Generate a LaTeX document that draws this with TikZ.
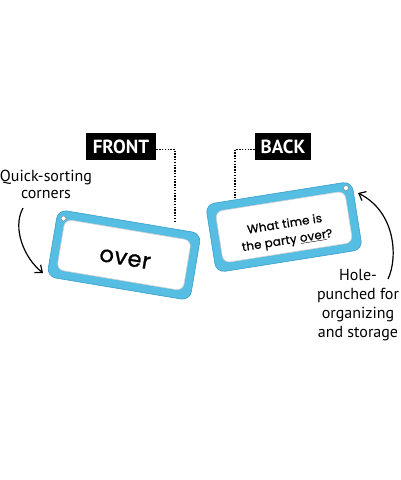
\documentclass[tikz,border=0pt]{standalone}
\usepackage{fontspec}
\setmainfont{PT Sans}
\newfontfamily\cardfont[FakeBold=1.2,LetterSpace=3]{Poppins}
\newfontfamily\qfont[FakeBold=0.8,LetterSpace=2]{Poppins}
\usetikzlibrary{arrows.meta,calc}
\definecolor{cardblue}{RGB}{86,190,226}
\definecolor{cardedge}{RGB}{58,158,202}
\begin{document}
\begin{tikzpicture}[x=1pt,y=-1pt,
  tag/.style={fill=black,text=white,font=\bfseries\fontsize{19}{19}\selectfont,inner ysep=0pt,minimum height=27pt},
  leader/.style={line width=1.4pt,dash pattern=on 1.4pt off 1.4pt},
  notel/.style={font=\fontsize{16}{17}\selectfont,align=center,inner sep=0pt},
  noter/.style={font=\fontsize{16}{19}\selectfont,align=center,inner sep=0pt},
  curvearrow/.style={line width=1.2pt,-{Straight Barb[length=6pt,width=10pt]}},
  cardframe/.style={fill=cardblue,draw=cardedge,line width=0.6pt,rounded corners=9pt},
  cardface/.style={fill=white,draw=black!18,line width=0.6pt,rounded corners=7pt},
  hole/.style={circle,fill=white,draw=black!45,line width=0.5pt,inner sep=0pt,minimum size=5pt},
]
\path[fill=white,use as bounding box] (0,0) rectangle (400,480);

% labels
\node[tag,inner xsep=7pt] (front) at (121,146.5) {FRONT};
\node[tag,inner xsep=6pt] (back) at (283,146.5) {BACK};

% cards
\node[cardframe,minimum width=145pt,minimum height=68pt,rotate=-9.5] (frontcard) at (124,255) {};
\node[cardface,minimum width=128pt,minimum height=51pt,rotate=-9.5] (frontface) at (frontcard.center) {};
\node[rotate=-9.5,font=\cardfont\fontsize{22.5}{23}\selectfont] (overword) at (125,259) {over};
\node[hole] (fronthole) at (63.5,218.5) {};

\node[cardframe,minimum width=148pt,minimum height=69pt,rotate=9] (backcard) at (284,227) {};
\node[cardface,minimum width=131pt,minimum height=52pt,rotate=9] (backface) at (backcard.center) {};
\node[rotate=9,align=center,font=\qfont\fontsize{11.8}{16.5}\selectfont] (question) at (286,233) {What time is\\the party \underline{over}?};
\node[hole] (backhole) at (346,188) {};

% leaders
\coordinate (fronttip) at (175,223);
\coordinate (backtip) at (235,198);
\draw[leader] ([yshift=-3pt]front.east) -| (fronttip);
\draw[leader] ([yshift=-3pt]back.west) -| (backtip);

% notes
\node[notel] (quick) at (46,184) {Quick-sorting\\corners};
\node[noter] (holep) at (358,305) {Hole-\\punched for\\organizing\\and storage};

% arrows
\coordinate (qa) at (23,208);
\coordinate (qb) at (43,273);
\draw[curvearrow] (qa) .. controls (12,228) and (24,258) .. (qb);
\coordinate (ha) at (388,279);
\coordinate (hb) at (358,193);
\draw[curvearrow] (ha) .. controls (398,258) and (396,212) .. (hb);
\end{tikzpicture}
\end{document}
